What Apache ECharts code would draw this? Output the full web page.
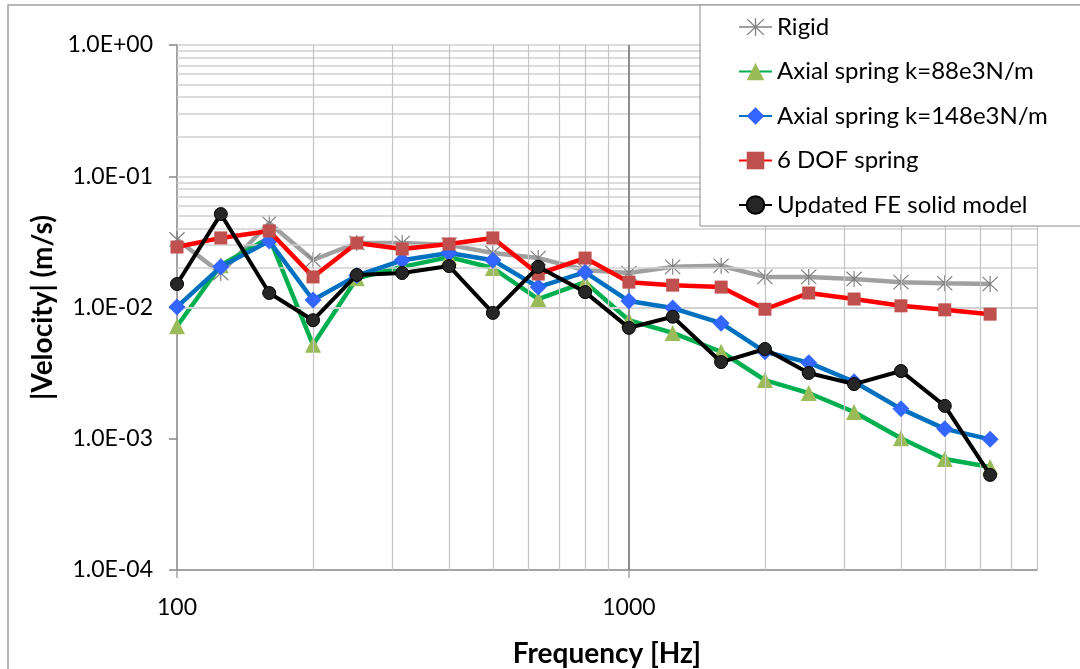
<!DOCTYPE html>
<html>
<head>
<meta charset="utf-8">
<script src="https://cdn.jsdelivr.net/npm/echarts@6/dist/echarts.min.js"></script>
<style>
  html, body { margin: 0; padding: 0; background: #ffffff; }
  #chart { width: 1080px; height: 669px; }
</style>
</head>
<body>
<div id="chart"></div>
<script>
// One-third octave band centre frequencies [Hz]
const frequencies = [100, 125, 160, 200, 250, 315, 400, 500, 630, 800, 1000, 1250, 1600, 2000, 2500, 3150, 4000, 5000, 6300];

// |Velocity| in m/s for each model
const rigid = [0.033, 0.0183, 0.044, 0.023, 0.031, 0.031, 0.030, 0.026, 0.0238, 0.0193, 0.0183, 0.0204, 0.0208, 0.0171, 0.0171, 0.0165, 0.0156, 0.0153, 0.0151];
const axial88 = [0.0072, 0.021, 0.034, 0.0052, 0.0167, 0.0204, 0.0242, 0.020, 0.0116, 0.0156, 0.0080, 0.0064, 0.0046, 0.0028, 0.00223, 0.0016, 0.00101, 0.0007, 0.00061];
const axial148 = [0.0101, 0.0204, 0.0321, 0.0114, 0.0175, 0.0229, 0.026, 0.0229, 0.0143, 0.0186, 0.0112, 0.0099, 0.0076, 0.0046, 0.0038, 0.00272, 0.00169, 0.00119, 0.00099];
const dof6 = [0.0289, 0.0339, 0.0383, 0.0171, 0.031, 0.0279, 0.0305, 0.0339, 0.018, 0.0238, 0.0156, 0.0148, 0.0143, 0.0097, 0.0129, 0.0116, 0.0103, 0.0096, 0.0089];
const updatedFE = [0.0151, 0.0515, 0.0129, 0.0080, 0.0177, 0.0183, 0.0207, 0.0091, 0.0204, 0.0131, 0.0070, 0.0085, 0.00384, 0.00483, 0.00317, 0.00261, 0.00328, 0.00178, 0.00053];

// Axis ranges and labelled ticks
const xMin = 100, xMax = 8000;
const xTickValues = [100, 1000];
const yTickValues = [1e-4, 1e-3, 1e-2, 1e-1, 1];

// Gridline positions: minor lines at 2..9 of every decade
const xMinorGrid = [200, 300, 400, 500, 600, 700, 800, 900, 2000, 3000, 4000, 5000, 6000, 7000, 8000];
const xMajorGrid = [1000];
const yGrid = [];
[1e-4, 1e-3, 1e-2, 1e-1].forEach(d => { for (let n = 1; n <= 9; n++) yGrid.push(+(n * d).toPrecision(2)); });
yGrid.push(1);

const FONT = 'Lato';

// Asterisk marker built from three bars (vertical and two diagonals)
const starPath = 'path://M9.3 0L10.7 0L10.7 20L9.3 20Z' +
  'M1.5 0.5L19.5 18.5L18.5 19.5L0.5 1.5Z' +
  'M18.5 0.5L19.5 1.5L1.5 19.5L0.5 18.5Z';

function pairs(values) {
  return frequencies.map((f, i) => [f, values[i]]);
}

function sciLabel(v) {
  const e = Math.round(Math.log10(v));
  return '1.0E' + (e < 0 ? '-' : '+') + String(Math.abs(e)).padStart(2, '0');
}

const chart = echarts.init(document.getElementById('chart'), null, { renderer: 'canvas' });

const option = {
  animation: false,
  backgroundColor: '#ffffff',
  textStyle: { fontFamily: FONT },
  grid: { left: 177, top: 45, right: 43, bottom: 99, containLabel: false, outerBoundsMode: 'none' },
  legend: {
    orient: 'vertical',
    left: 700,
    top: 5,
    z: 100,
    padding: [10, 90, 9, 38],
    itemGap: 20.5,
    itemWidth: 33,
    itemHeight: 22,
    backgroundColor: '#ffffff',
    borderColor: '#8c8c8c',
    borderWidth: 1,
    borderRadius: 0,
    textStyle: { fontFamily: FONT, fontSize: 24, color: '#000000', lineHeight: 24 },
    data: ['Rigid', 'Axial spring k=88e3N/m', 'Axial spring k=148e3N/m', '6 DOF spring', 'Updated FE solid model']
  },
  graphic: [
    {
      type: 'rect',
      z: -10,
      silent: true,
      shape: { x: 8, y: 5, width: 1200, height: 800 },
      style: { fill: null, stroke: '#a0a0a0', lineWidth: 1.5 }
    }
  ],
  xAxis: {
    type: 'log',
    logBase: 10,
    min: xMin,
    max: xMax,
    name: 'Frequency [Hz]',
    nameLocation: 'middle',
    nameGap: 70,
    nameTextStyle: { fontFamily: FONT, fontSize: 28, fontWeight: 'bold', color: '#000000' },
    axisLine: { show: true, lineStyle: { color: '#868686', width: 1.5 } },
    axisTick: { show: true, inside: false, length: 8, customValues: xTickValues, lineStyle: { color: '#a6a6a6', width: 1.5 } },
    axisLabel: {
      customValues: xTickValues,
      margin: 26,
      fontFamily: FONT,
      fontSize: 23,
      color: '#000000',
      formatter: v => String(Math.round(v))
    },
    splitLine: { show: false },
    minorTick: { show: false },
    minorSplitLine: { show: false }
  },
  yAxis: {
    type: 'log',
    logBase: 10,
    min: 1e-4,
    max: 1,
    name: '|Velocity| (m/s)',
    nameLocation: 'middle',
    nameGap: 116,
    nameTextStyle: { fontFamily: FONT, fontSize: 28, fontWeight: 'bold', color: '#000000' },
    axisLine: { show: true, lineStyle: { color: '#868686', width: 1.5 } },
    axisTick: { show: true, inside: false, length: 8, customValues: yTickValues, lineStyle: { color: '#868686', width: 1.5 } },
    axisLabel: {
      customValues: yTickValues,
      margin: 24,
      fontFamily: FONT,
      fontSize: 23,
      color: '#000000',
      formatter: v => sciLabel(v)
    },
    splitLine: { show: false },
    minorTick: { show: false },
    minorSplitLine: { show: false }
  },
  series: [
    {
      // gridlines drawn on the axes' own log scales
      type: 'line',
      data: [],
      silent: true,
      z: 1,
      markLine: {
        silent: true,
        symbol: ['none', 'none'],
        label: { show: false },
        emphasis: { disabled: true },
        animation: false,
        data: [
          ...yGrid.map(v => ({ yAxis: v, lineStyle: { color: '#d0d0d0', width: 1.5, type: 'solid' } })),
          ...xMinorGrid.map(v => ({ xAxis: v, lineStyle: { color: '#c4c4c4', width: 1.2, type: 'solid' } })),
          ...xMajorGrid.map(v => ({ xAxis: v, lineStyle: { color: '#808080', width: 1.8, type: 'solid' } }))
        ]
      }
    },
    {
      name: 'Rigid',
      type: 'line',
      z: 3,
      data: pairs(rigid),
      symbol: starPath,
      symbolSize: 16,
      lineStyle: { color: '#a0a0a0', width: 4.5 },
      itemStyle: { color: '#7f7f7f' }
    },
    {
      name: 'Axial spring k=88e3N/m',
      type: 'line',
      z: 4,
      data: pairs(axial88),
      symbol: 'triangle',
      symbolSize: 16,
      lineStyle: { color: '#00b050', width: 4.5 },
      itemStyle: { color: '#9bbb59' }
    },
    {
      name: 'Axial spring k=148e3N/m',
      type: 'line',
      z: 5,
      data: pairs(axial148),
      symbol: 'diamond',
      symbolSize: 17,
      lineStyle: { color: '#0070c0', width: 4.5 },
      itemStyle: { color: '#3366ff' }
    },
    {
      name: '6 DOF spring',
      type: 'line',
      z: 6,
      data: pairs(dof6),
      symbol: 'rect',
      symbolSize: 13,
      lineStyle: { color: '#ff0000', width: 4.5 },
      itemStyle: { color: '#c0504d' }
    },
    {
      name: 'Updated FE solid model',
      type: 'line',
      z: 7,
      data: pairs(updatedFE),
      symbol: 'circle',
      symbolSize: 13,
      lineStyle: { color: '#000000', width: 4 },
      itemStyle: { color: '#262626', borderColor: '#000000', borderWidth: 1 }
    }
  ]
};

chart.setOption(option);
</script>
</body>
</html>
